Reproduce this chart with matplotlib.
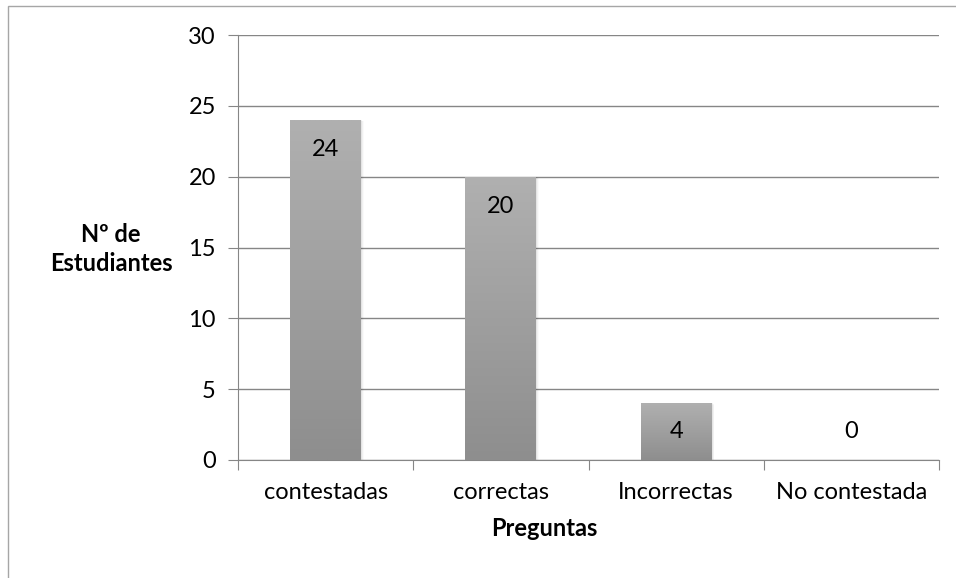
import matplotlib.pyplot as plt
import numpy as np
from matplotlib.patches import Rectangle
from matplotlib.colors import LinearSegmentedColormap

categorias = ["contestadas", "correctas", "Incorrectas", "No contestada"]
valores = [24, 20, 4, 0]
yticks = [0, 5, 10, 15, 20, 25, 30]

plt.rcParams['font.family'] = ['Lato', 'DejaVu Sans']
fs = 17

fig = plt.figure(figsize=(9.56, 5.78), dpi=100)
ax = fig.add_axes([238 / 956, 1 - 460 / 578, (939 - 238) / 956, (460 - 35) / 578])

# borde del grafico
fig.patches.append(Rectangle((8 / 956, -0.1), 1.2, 1 - 6 / 578 + 0.1, transform=fig.transFigure,
                             fill=False, edgecolor='#a6a6a6', linewidth=1.0))

x = np.arange(len(categorias))
ancho = 0.405
barras = ax.bar(x, valores, width=ancho, color='none', zorder=3)

# degradado gris en cada barra
grad = np.linspace(0, 1, 256).reshape(-1, 1)
cmap = LinearSegmentedColormap.from_list('g', ['#8e8e8e', '#b0b0b0'])
for b, v in zip(barras, valores):
    if v <= 0:
        continue
    x0 = b.get_x()
    # sombra suave
    for k, a in enumerate([0.05, 0.035, 0.02]):
        ax.add_patch(Rectangle((x0 + 0.006 + k * 0.005, 0), ancho, v - 0.05 * k,
                               facecolor='black', alpha=a, edgecolor='none', zorder=2))
    im = ax.imshow(grad, extent=(x0, x0 + ancho, 0, v), aspect='auto', cmap=cmap,
                   origin='lower', zorder=3)
    im.set_clip_path(b)

for xi, v in zip(x, valores):
    ax.text(xi, max(v - 2.1, 2.0), str(v), ha='center', va='center', fontsize=fs, color='black', zorder=5)

ax.set_xlim(-0.5, len(categorias) - 0.5)
ax.set_ylim(0, 30)
ax.set_yticks(yticks)
ax.set_yticklabels([str(t) for t in yticks], fontsize=fs)
ax.set_xticks(np.arange(len(categorias) + 1) - 0.5)
ax.set_xticklabels([])
ax.set_xticks(x, minor=True)
ax.set_xticklabels(categorias, minor=True, fontsize=fs)
ax.tick_params(axis='x', which='minor', length=0, pad=16)
ax.tick_params(axis='x', which='major', length=7, color='#868686', direction='out')
ax.tick_params(axis='y', length=7, color='#868686', pad=9)

ax.grid(axis='y', color='#868686', linewidth=1.0, zorder=0)
for s in ['top', 'right']:
    ax.spines[s].set_visible(False)
for s in ['left', 'bottom']:
    ax.spines[s].set_color('#868686')

fig.text(111 / 956, 1 - 249 / 578, "Nº de\nEstudiantes", ha='center', va='center',
         fontsize=fs, fontweight='bold', linespacing=1.3)
fig.text(544 / 956, 1 - 528 / 578, "Preguntas", ha='center', va='center',
         fontsize=fs, fontweight='bold')

fig.savefig('out.png', dpi=100)
